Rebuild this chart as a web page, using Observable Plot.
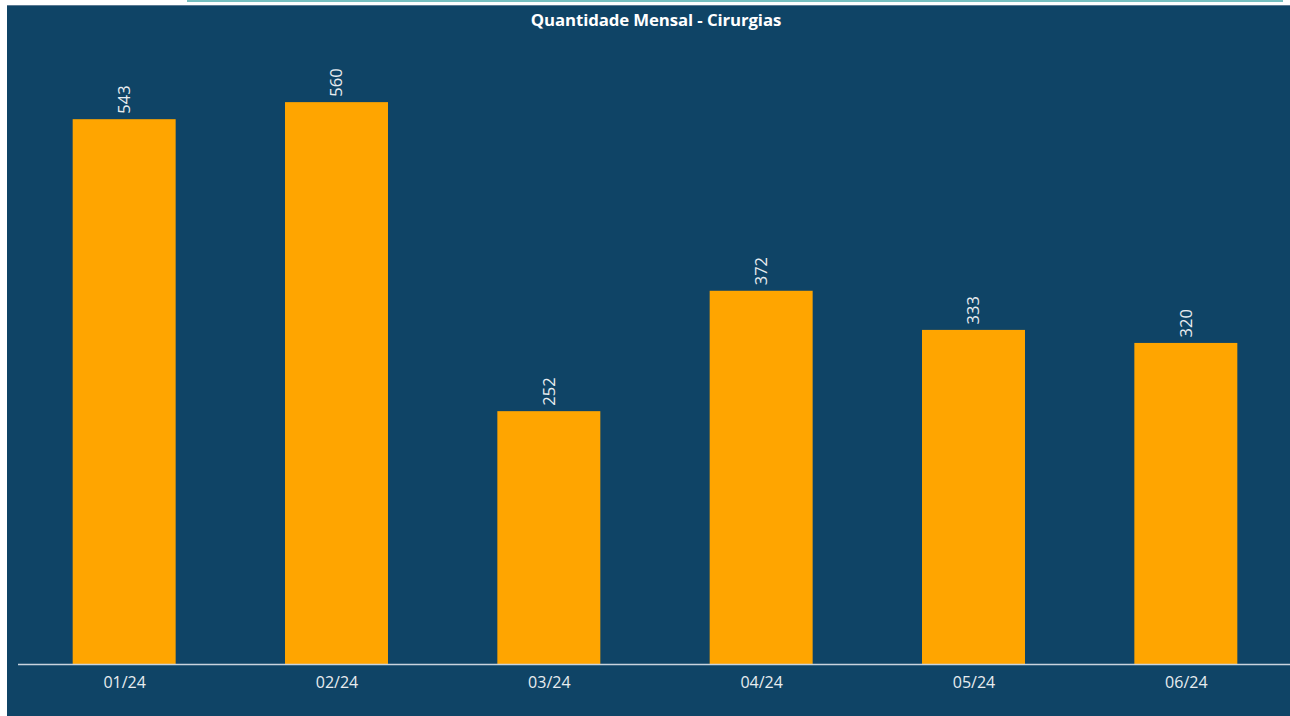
<!DOCTYPE html>
<html>
<head>
<meta charset="utf-8">
<script src="https://cdn.jsdelivr.net/npm/d3@7"></script>
<script src="https://cdn.jsdelivr.net/npm/@observablehq/plot@0.6"></script>
<style>
  html, body { margin: 0; padding: 0; background: #ffffff; width: 1290px; height: 716px; overflow: hidden; }
  #topline { position: absolute; left: 187px; top: 0; width: 1096px; height: 2px; background: #76bfc0; }
  #panel { position: absolute; left: 7px; top: 5px; width: 1283px; height: 711px; background: #0f4466; border-top: 1px solid #5b7a93; box-sizing: border-box; }
  #title { position: absolute; left: 0; top: 8px; width: 1312px; text-align: center; color: #ffffff;
           font-family: "Open Sans", sans-serif; font-weight: 700; font-size: 16.8px; letter-spacing: -0.1px; }
  #chart { position: absolute; left: 0; top: 0; }
</style>
</head>
<body>
<div id="topline"></div>
<div id="panel"></div>
<div id="title">Quantidade Mensal - Cirurgias</div>
<div id="chart"></div>
<script>
const months = ["01/24", "02/24", "03/24", "04/24", "05/24", "06/24"];
const values = [543, 560, 252, 372, 333, 320];

const data = months.map((m, i) => ({month: m, value: values[i]}));

const chart = Plot.plot({
  width: 1290,
  height: 716,
  marginLeft: 18,
  marginRight: 0,
  marginTop: 62,
  marginBottom: 52,
  style: {background: "transparent", fontFamily: "Open Sans, sans-serif", color: "#e8ecef", overflow: "visible"},
  x: {domain: months, range: [18, 1292], round: false, paddingInner: 0.515, paddingOuter: 0.2575, label: null},
  y: {domain: [0, 600], axis: null},
  marks: [
    Plot.barY(data, {x: "month", y: "value", fill: "#ffa500"}),
    Plot.ruleY([0], {stroke: "#c9d4de", strokeWidth: 1.5}),
    Plot.axisX({tickSize: 0, tickPadding: 12, fontSize: 16, fill: "#e8ecef", label: null}),
    Plot.text(data, {x: "month", y: "value", text: d => String(d.value), rotate: -90,
      textAnchor: "start", lineAnchor: "middle", dy: -6, fontSize: 16.5, fill: "#e8ecef"})
  ]
});
document.getElementById("chart").appendChild(chart);
</script>
</body>
</html>
